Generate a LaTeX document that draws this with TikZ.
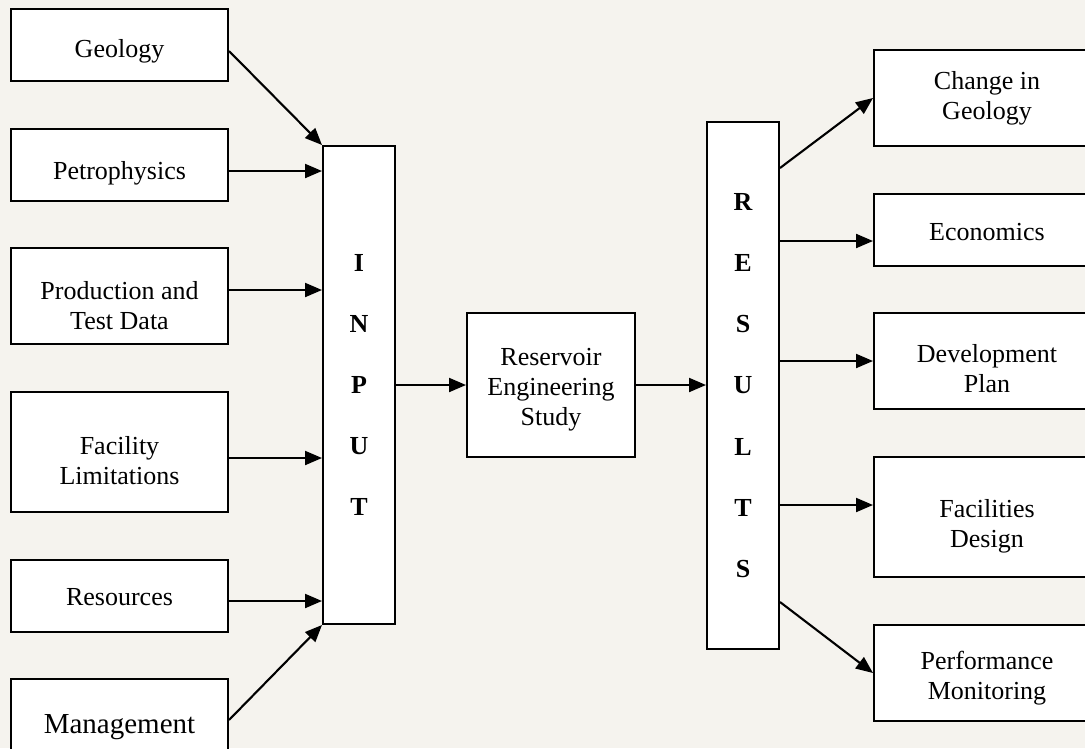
\documentclass[tikz,border=0pt]{standalone}
\usepackage{fontspec}
\setmainfont{Liberation Serif}
\usetikzlibrary{arrows.meta}
\definecolor{bg}{HTML}{F5F3EE}
\newcommand\lo[2]{\raisebox{-#1pt}[\height][\depth]{\begin{tabular}{@{}c@{}}#2\end{tabular}}}
\begin{document}
\begin{tikzpicture}[x=1pt,y=-1pt,
  box/.style={draw=black, fill=white, line width=2pt, inner sep=0pt, align=center,
    font=\fontsize{26}{30}\selectfont},
  lbox/.style={box, minimum width=217pt},
  rbox/.style={box, minimum width=226pt},
  letters/.style={box, font=\fontsize{26}{61.2}\selectfont\bfseries},
  arr/.style={line width=2.1pt, -{Triangle[length=17pt,width=14pt]}},
]
\useasboundingbox (0,0) rectangle (1085,748);
\clip (0,0) rectangle (1085,748);
\fill[bg] (0,0) rectangle (1085,748);

% left inputs
\node[lbox, minimum height=72pt]  (geo)   at (119.5,45)  {\lo{6}{Geology}};
\node[lbox, minimum height=72pt]  (petro) at (119.5,165) {\lo{8}{Petrophysics}};
\node[lbox, minimum height=96pt]  (prod)  at (119.5,296) {\lo{12}{Production and\\Test Data}};
\node[lbox, minimum height=120pt] (fac)   at (119.5,452) {\lo{11}{Facility\\Limitations}};
\node[lbox, minimum height=72pt]  (res)   at (119.5,596) {\lo{3}{Resources}};
\node[lbox, minimum height=82pt, font=\fontsize{29}{33}\selectfont] (mgmt) at (119.5,720) {\lo{7}{Management}};

% central column
\node[letters, minimum width=72pt, minimum height=478pt] (inp) at (359,385) {I\\N\\P\\U\\T};
\node[box, minimum width=168pt, minimum height=144pt] (resv) at (551,385) {\lo{4}{Reservoir\\Engineering\\Study}};
\node[letters, minimum width=72pt, minimum height=527pt] (rslt) at (743,385.5) {R\\E\\S\\U\\L\\T\\S};

% right results
\node[rbox, minimum height=96pt]  (chg)  at (987,98)  {\lo{0}{Change in\\Geology}};
\node[rbox, minimum height=72pt]  (eco)  at (987,230) {\lo{4}{Economics}};
\node[rbox, minimum height=96pt]  (dev)  at (987,361) {\lo{10}{Development\\Plan}};
\node[rbox, minimum height=120pt] (facd) at (987,517) {\lo{9}{Facilities\\Design}};
\node[rbox, minimum height=96pt]  (perf) at (987,673) {\lo{5}{Performance\\Monitoring}};

% input arrows
\draw[arr] ([yshift=-6pt]geo.east) -- (inp.north west);
\draw[arr] ([yshift=-6pt]petro.east) -- ([yshift=-6pt]petro.east -| inp.west);
\draw[arr] ([yshift=6pt]prod.east) -- ([yshift=6pt]prod.east -| inp.west);
\draw[arr] ([yshift=-6pt]fac.east) -- ([yshift=-6pt]fac.east -| inp.west);
\draw[arr] ([yshift=-5pt]res.east) -- ([yshift=-5pt]res.east -| inp.west);
\draw[arr] (mgmt.east) -- (inp.south west);

% central arrows
\draw[arr] (inp.east) -- (resv.west);
\draw[arr] (resv.east) -- (resv.east -| rslt.west);

% result arrows
\draw[arr] ([yshift=-47pt]rslt.north east) -- (chg.west);
\draw[arr] ([yshift=-11pt]eco.west -| rslt.east) -- ([yshift=-11pt]eco.west);
\draw[arr] (dev.west -| rslt.east) -- (dev.west);
\draw[arr] ([yshift=12pt]facd.west -| rslt.east) -- ([yshift=12pt]facd.west);
\draw[arr] ([yshift=48pt]rslt.south east) -- (perf.west);
\end{tikzpicture}
\end{document}
